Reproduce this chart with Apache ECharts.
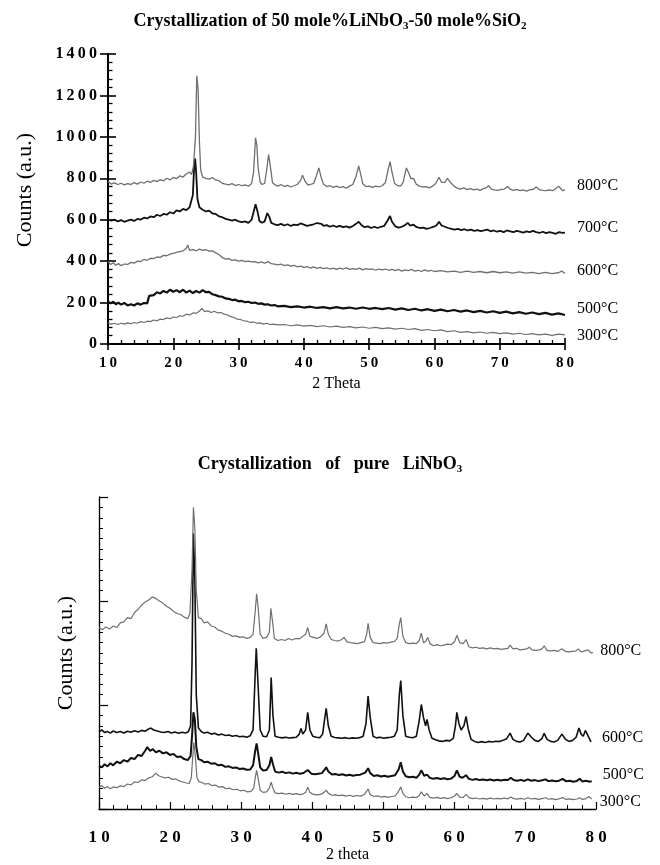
<!DOCTYPE html>
<html>
<head>
<meta charset="utf-8">
<script src="https://cdn.jsdelivr.net/npm/echarts@6/dist/echarts.min.js"></script>
<style>
html,body{margin:0;padding:0;background:#fff;}
#chart{width:660px;height:865px;}
</style>
</head>
<body>
<div id="chart"></div>
<script>
// ---------- Top chart: 50 mole% LiNbO3 - 50 mole% SiO2 ----------
const topXTicks = [10, 20, 30, 40, 50, 60, 70, 80];
const topYTicks = [0, 200, 400, 600, 800, 1000, 1200, 1400];
const topNames = ['800°C', '700°C', '600°C', '500°C', '300°C'];

const top800 = [[10,784],[10.5,772],[11,778],[11.5,770],[12,776],[12.5,768],[13,774],[13.5,770],[14,779],[14.5,772],[15,782],[15.5,776],[16,786],[16.5,780],[17,790],[17.5,784],[18,794],[18.5,788],[19,800],[19.5,792],[20,804],[20.5,798],[21,812],[21.5,806],[22,822],[22.5,830],[22.8,818],[23.1,860],[23.4,1000],[23.6,1295],[23.8,1230],[24.0,980],[24.2,840],[24.5,806],[25,800],[25.5,796],[26,804],[26.5,792],[27,788],[27.5,776],[28,772],[28.5,768],[29,774],[29.5,765],[30,770],[30.5,764],[31,768],[31.5,762],[32,775],[32.3,830],[32.6,995],[32.8,960],[33,850],[33.3,782],[33.6,770],[34,775],[34.3,840],[34.6,915],[34.9,850],[35.2,778],[35.6,768],[36,762],[36.5,770],[37,760],[37.5,766],[38,758],[38.5,764],[39,770],[39.5,790],[39.8,815],[40.2,785],[40.6,768],[41,770],[41.5,775],[41.9,810],[42.3,850],[42.6,810],[43,772],[43.5,760],[44,764],[44.5,756],[45,762],[45.5,755],[46,760],[46.5,752],[47,762],[47.5,770],[48,810],[48.4,860],[48.7,820],[49,775],[49.5,760],[50,762],[50.5,756],[51,762],[51.5,758],[52,764],[52.5,780],[52.9,840],[53.2,880],[53.5,830],[53.9,775],[54.3,766],[54.8,762],[55.2,780],[55.7,850],[56,830],[56.4,798],[56.8,800],[57.2,772],[57.7,762],[58.2,758],[58.7,760],[59.2,754],[59.7,762],[60.2,775],[60.7,805],[61.1,780],[61.6,780],[62,800],[62.4,782],[63,762],[63.5,752],[64,748],[64.5,754],[65,745],[65.5,750],[66,744],[66.5,748],[67,742],[67.5,750],[68,755],[68.3,765],[68.7,748],[69.2,744],[69.7,742],[70.2,746],[70.7,748],[71.2,760],[71.6,748],[72.1,742],[72.6,746],[73.1,740],[73.6,744],[74.1,738],[74.6,744],[75.1,746],[75.6,758],[76.1,745],[76.6,742],[77.1,740],[77.6,744],[78.1,740],[78.6,750],[79,762],[79.3,752],[79.6,740],[80,744]];

const top700 = [[10,602],[10.5,596],[11,600],[11.5,592],[12,598],[12.5,590],[13,596],[13.5,600],[14,594],[14.5,604],[15,600],[15.5,610],[16,606],[16.5,616],[17,612],[17.5,624],[18,618],[18.5,628],[19,624],[19.5,636],[20,630],[20.5,645],[21,640],[21.5,652],[22,646],[22.5,660],[22.8,668],[23.0,720],[23.2,860],[23.35,895],[23.5,830],[23.7,700],[24,660],[24.5,648],[25,640],[25.5,644],[26,630],[26.5,628],[27,616],[27.5,612],[28,604],[28.5,600],[29,596],[29.5,600],[30,592],[30.5,588],[31,592],[31.5,585],[32,600],[32.4,650],[32.6,675],[32.9,640],[33.2,594],[33.6,585],[34,592],[34.4,632],[34.7,615],[35,585],[35.5,578],[36,574],[36.5,580],[37,572],[37.5,578],[38,570],[38.5,576],[39,574],[39.5,582],[40,576],[40.5,570],[41,574],[41.5,578],[42,584],[42.3,592],[42.7,580],[43,570],[43.5,574],[44,566],[44.5,572],[45,565],[45.5,570],[46,564],[46.5,568],[47,562],[47.5,570],[48,580],[48.4,590],[48.8,575],[49.3,564],[49.8,568],[50.3,560],[50.8,566],[51.3,560],[51.8,566],[52.3,570],[52.8,595],[53.2,618],[53.5,590],[54,568],[54.5,562],[55,566],[55.5,574],[55.9,585],[56.3,572],[56.8,576],[57.3,564],[57.8,560],[58.3,562],[58.8,556],[59.3,560],[59.8,565],[60.3,572],[60.7,590],[61.1,572],[61.6,566],[62.1,560],[62.6,556],[63.1,552],[63.6,556],[64.1,550],[64.6,554],[65.1,548],[65.6,552],[66.1,546],[66.6,550],[67.1,545],[67.6,548],[68.1,552],[68.6,544],[69.1,548],[69.6,542],[70.1,546],[70.6,540],[71.1,548],[71.6,544],[72.1,540],[72.6,546],[73.1,542],[73.6,538],[74.1,544],[74.6,540],[75.1,546],[75.6,540],[76.1,536],[76.6,542],[77.1,535],[77.6,540],[78.1,536],[78.6,532],[79.1,540],[79.6,536],[80,538]];

const top600 = [[10,398],[10.4,384],[10.8,392],[11.2,380],[11.6,388],[12,378],[12.5,386],[13,384],[13.5,394],[14,390],[14.5,400],[15,398],[15.5,408],[16,404],[16.5,414],[17,412],[17.5,420],[18,418],[18.5,428],[19,426],[19.5,434],[20,438],[20.5,442],[21,446],[21.5,450],[22,462],[22.2,478],[22.5,452],[23,456],[23.5,450],[24,458],[24.5,452],[25,455],[25.5,448],[26,450],[26.5,440],[27,432],[27.5,418],[28,410],[28.5,412],[29,404],[29.5,406],[30,400],[30.5,404],[31,398],[31.5,400],[32,396],[32.5,398],[33,392],[33.5,396],[34,390],[34.5,398],[35,388],[35.5,386],[36,382],[36.5,386],[37,378],[37.5,382],[38,376],[38.5,380],[39,372],[39.5,376],[40,370],[40.5,374],[41,366],[41.5,372],[42,365],[42.5,370],[43,364],[43.5,368],[44,362],[44.5,366],[45,360],[45.5,366],[46,362],[46.5,368],[47,360],[47.5,364],[48,360],[48.5,366],[49,358],[49.5,364],[50,360],[50.5,362],[51,356],[51.5,362],[52,358],[52.5,362],[53,356],[53.5,360],[54,354],[54.5,360],[55,352],[55.5,358],[56,354],[56.5,360],[57,352],[57.5,356],[58,350],[58.5,358],[59,352],[59.5,356],[60,350],[61,354],[62,348],[63,352],[64,346],[65,352],[66,346],[67,350],[68,344],[69,350],[70,344],[71,348],[72,342],[73,348],[74,342],[75,346],[76,340],[77,346],[78,340],[79,344],[79.5,352],[80,340]];

const top500 = [[10,205],[10.4,196],[10.8,204],[11.2,192],[11.6,200],[12,190],[12.5,198],[13,186],[13.5,192],[14,186],[14.5,196],[15,190],[15.5,198],[16,196],[16.3,232],[16.6,240],[17,236],[17.5,250],[18,244],[18.5,256],[19,248],[19.5,262],[20,252],[20.5,260],[21,250],[21.5,262],[22,248],[22.5,258],[23,246],[23.5,256],[24,248],[24.5,260],[25,250],[25.5,252],[26,240],[26.5,236],[27,230],[27.5,228],[28,220],[28.5,218],[29,212],[29.5,214],[30,206],[30.5,208],[31,202],[31.5,204],[32,198],[32.5,200],[33,194],[33.5,196],[34,190],[34.5,192],[35,186],[35.5,188],[36,182],[37,184],[38,178],[39,182],[40,176],[41,180],[42,174],[43,178],[44,172],[45,178],[46,172],[47,176],[48,170],[49,176],[50,170],[51,174],[52,168],[53,174],[54,166],[55,172],[56,164],[57,170],[58,162],[59,168],[60,160],[61,166],[62,158],[63,164],[64,156],[65,162],[66,154],[67,160],[68,152],[69,158],[70,150],[71,156],[72,148],[73,154],[74,146],[75,152],[76,144],[77,150],[78,142],[79,148],[80,140]];

const top300 = [[10,102],[10.5,96],[11,100],[11.5,94],[12,100],[12.5,96],[13,102],[13.5,98],[14,104],[14.5,100],[15,108],[15.5,104],[16,110],[16.5,108],[17,116],[17.5,112],[18,120],[18.5,118],[19,126],[19.5,122],[20,130],[20.5,128],[21,136],[21.5,134],[22,144],[22.5,140],[23,150],[23.5,148],[24,158],[24.4,172],[24.8,156],[25.3,160],[25.8,152],[26.3,158],[26.8,150],[27.3,152],[27.8,144],[28.3,140],[28.8,132],[29.3,128],[29.8,120],[30.3,118],[30.8,112],[31.3,110],[31.8,104],[32.3,106],[32.8,100],[33.3,102],[33.8,96],[34.3,100],[34.8,94],[35.3,96],[36,92],[37,94],[38,88],[39,92],[40,86],[41,90],[42,84],[43,88],[44,82],[45,86],[46,80],[47,84],[48,78],[49,82],[50,76],[51,80],[52,74],[53,78],[54,72],[55,76],[56,70],[57,74],[58,66],[59,70],[60,64],[61,68],[62,60],[63,64],[64,56],[65,60],[66,54],[67,58],[68,52],[69,56],[70,50],[71,54],[72,48],[73,52],[74,46],[75,50],[76,44],[77,48],[78,42],[79,48],[80,44]];

// ---------- Bottom chart: pure LiNbO3 (arbitrary units) ----------
const botXTicks = [10, 20, 30, 40, 50, 60, 70, 80];
const botNames = ['800°C', '600°C', '500°C', '300°C'];

const bot800 = [[10,1740],[10.5,1725],[11,1750],[11.5,1730],[12,1760],[12.5,1745],[13,1790],[13.5,1800],[14,1840],[14.5,1830],[15,1890],[15.5,1920],[16,1960],[16.5,1990],[17,2010],[17.5,2040],[18,2025],[18.5,2000],[19,1980],[19.5,1950],[20,1930],[20.5,1900],[21,1880],[21.5,1870],[22,1845],[22.5,1830],[22.8,1880],[23.1,2300],[23.3,2900],[23.5,2700],[23.7,2100],[24,1840],[24.4,1830],[24.8,1790],[25.3,1800],[25.8,1760],[26.3,1750],[26.8,1720],[27.3,1710],[27.8,1690],[28.3,1680],[28.8,1660],[29.3,1665],[29.8,1650],[30.3,1655],[30.8,1640],[31.3,1650],[31.7,1680],[32,1900],[32.2,2070],[32.4,1950],[32.7,1680],[33.1,1640],[33.6,1650],[34,1700],[34.2,1930],[34.45,1800],[34.7,1640],[35.2,1620],[35.7,1630],[36.2,1620],[36.7,1640],[37.2,1625],[37.7,1640],[38.2,1635],[38.7,1660],[39.1,1680],[39.4,1745],[39.7,1660],[40.2,1650],[40.7,1640],[41.2,1655],[41.7,1690],[42,1780],[42.3,1680],[42.7,1630],[43.2,1620],[43.7,1615],[44.2,1630],[44.5,1650],[44.9,1610],[45.4,1600],[45.9,1595],[46.4,1590],[46.9,1600],[47.4,1610],[47.7,1680],[47.9,1785],[48.2,1650],[48.6,1600],[49.1,1595],[49.6,1590],[50.1,1600],[50.6,1595],[51.1,1605],[51.6,1610],[52,1640],[52.3,1780],[52.5,1840],[52.8,1660],[53.2,1600],[53.7,1590],[54.2,1595],[54.7,1590],[55.1,1620],[55.4,1690],[55.7,1600],[56,1610],[56.3,1650],[56.6,1590],[57.1,1570],[57.6,1580],[58.1,1570],[58.6,1575],[59.1,1585],[59.6,1580],[60.1,1610],[60.4,1670],[60.8,1600],[61.3,1590],[61.7,1630],[62.1,1560],[62.6,1550],[63.1,1555],[63.6,1545],[64.1,1550],[64.6,1540],[65.1,1550],[65.6,1540],[66.1,1545],[66.6,1535],[67.1,1540],[67.6,1545],[67.9,1575],[68.3,1540],[68.8,1545],[69.3,1530],[69.8,1535],[70.3,1540],[70.6,1555],[71,1530],[71.5,1525],[72,1530],[72.4,1540],[72.7,1570],[73.1,1525],[73.6,1520],[74.1,1525],[74.6,1515],[75.2,1540],[75.7,1515],[76.2,1510],[76.7,1515],[77.2,1520],[77.5,1540],[77.9,1510],[78.4,1520],[78.9,1530],[79.3,1500],[79.6,1505]];

const bot600 = [[10,740],[10.4,760],[10.8,735],[11.2,745],[11.6,730],[12,750],[12.5,735],[13,745],[13.5,730],[14,748],[14.5,738],[15,752],[15.5,740],[16,756],[16.5,748],[17,770],[17.3,778],[17.7,760],[18.2,750],[18.7,740],[19.2,735],[19.7,745],[20.2,730],[20.7,740],[21.2,728],[21.7,738],[22.2,730],[22.6,745],[22.9,800],[23.1,1400],[23.3,2650],[23.5,2200],[23.7,1100],[24,780],[24.4,745],[24.8,730],[25.3,738],[25.8,720],[26.3,728],[26.8,712],[27.3,720],[27.8,706],[28.3,712],[28.8,700],[29.3,706],[29.8,694],[30.3,700],[30.8,690],[31.3,705],[31.7,760],[32,1300],[32.15,1545],[32.4,1200],[32.7,760],[33.1,700],[33.6,695],[34,760],[34.25,1265],[34.5,900],[34.8,700],[35.3,690],[35.8,684],[36.3,690],[36.8,682],[37.3,686],[37.8,690],[38.2,720],[38.45,775],[38.7,720],[39.1,760],[39.4,930],[39.7,760],[40.1,700],[40.6,690],[41.1,686],[41.5,720],[41.75,850],[42,968],[42.3,800],[42.7,700],[43.2,688],[43.7,684],[44.2,680],[44.7,686],[45.2,678],[45.7,684],[46.2,680],[46.7,686],[47.2,700],[47.6,820],[47.9,1085],[48.2,880],[48.6,700],[49.1,684],[49.6,690],[50.1,680],[50.6,686],[51.1,690],[51.6,700],[52,760],[52.3,1100],[52.5,1236],[52.8,900],[53.2,700],[53.7,690],[54.2,685],[54.7,700],[55.1,850],[55.4,1005],[55.7,880],[56,800],[56.2,862],[56.5,760],[56.9,680],[57.4,665],[57.9,655],[58.4,650],[58.9,660],[59.4,655],[59.9,680],[60.2,800],[60.4,930],[60.7,820],[61,760],[61.4,800],[61.7,890],[62,770],[62.4,670],[62.9,650],[63.4,640],[63.9,648],[64.4,640],[64.9,650],[65.4,645],[65.9,652],[66.4,648],[66.9,660],[67.4,675],[67.9,730],[68.3,670],[68.8,650],[69.3,645],[69.8,660],[70.4,730],[70.9,690],[71.4,660],[71.9,650],[72.4,680],[72.7,728],[73.1,670],[73.6,650],[74.1,645],[74.6,660],[75.2,720],[75.7,670],[76.2,650],[76.7,660],[77.2,690],[77.6,778],[77.9,720],[78.2,700],[78.5,755],[78.9,700],[79.3,645]];

const bot500 = [[10,415],[10.4,400],[10.8,430],[11.2,410],[11.6,440],[12,420],[12.5,455],[13,440],[13.5,470],[14,455],[14.5,490],[15,480],[15.5,520],[16,510],[16.5,560],[16.8,595],[17.2,560],[17.6,575],[18,545],[18.5,560],[19,535],[19.5,545],[20,520],[20.5,530],[21,500],[21.5,505],[22,480],[22.5,470],[22.9,510],[23.1,700],[23.3,930],[23.5,860],[23.7,600],[24,480],[24.4,470],[24.8,450],[25.3,455],[25.8,435],[26.3,440],[26.8,420],[27.3,425],[27.8,405],[28.3,410],[28.8,395],[29.3,400],[29.8,385],[30.3,390],[30.8,378],[31.3,380],[31.7,420],[32,560],[32.2,630],[32.45,520],[32.7,400],[33.1,370],[33.6,375],[34,420],[34.25,500],[34.5,430],[34.8,360],[35.3,350],[35.8,358],[36.3,345],[36.8,352],[37.3,340],[37.8,348],[38.3,338],[38.8,346],[39.4,375],[39.9,340],[40.4,335],[40.9,340],[41.4,345],[41.8,380],[42,402],[42.3,360],[42.8,332],[43.3,336],[43.8,326],[44.3,334],[44.8,322],[45.3,330],[45.8,320],[46.3,328],[46.8,330],[47.5,350],[47.9,392],[48.2,345],[48.7,318],[49.2,325],[49.7,312],[50.2,320],[50.7,310],[51.2,318],[51.7,325],[52.2,380],[52.5,450],[52.8,360],[53.2,315],[53.7,305],[54.2,310],[54.7,300],[55.1,330],[55.4,372],[55.8,320],[56.2,330],[56.6,300],[57.1,290],[57.6,298],[58.1,288],[58.6,295],[59.1,286],[59.6,292],[60.1,320],[60.4,372],[60.8,310],[61.2,300],[61.7,325],[62.1,290],[62.6,280],[63.1,288],[63.6,278],[64.1,284],[64.6,276],[65.1,284],[65.6,274],[66.1,282],[66.6,275],[67.1,282],[67.6,278],[68,300],[68.4,278],[68.9,272],[69.4,280],[69.9,270],[70.4,285],[70.9,272],[71.4,278],[71.9,268],[72.4,276],[72.9,285],[73.3,268],[73.8,274],[74.3,266],[74.8,272],[75.3,290],[75.8,266],[76.3,272],[76.8,262],[77.3,270],[77.7,290],[78.1,265],[78.6,272],[79.1,262],[79.4,268]];

const bot300 = [[10,210],[10.4,225],[10.8,200],[11.2,215],[11.6,195],[12,212],[12.5,205],[13,222],[13.5,215],[14,240],[14.5,232],[15,260],[15.5,255],[16,280],[16.5,275],[17,300],[17.5,310],[18,345],[18.4,320],[18.8,310],[19.3,300],[19.8,305],[20.3,285],[20.8,290],[21.3,270],[21.8,260],[22.3,250],[22.7,245],[23,300],[23.2,500],[23.35,640],[23.55,520],[23.8,300],[24.1,260],[24.5,255],[24.9,240],[25.4,245],[25.9,225],[26.4,230],[26.9,210],[27.4,215],[27.9,195],[28.4,200],[28.9,185],[29.4,190],[29.9,175],[30.4,180],[30.9,165],[31.4,170],[31.8,200],[32,300],[32.2,372],[32.45,280],[32.7,180],[33.1,160],[33.6,165],[34,200],[34.25,258],[34.5,200],[34.8,155],[35.3,148],[35.8,152],[36.3,142],[36.8,150],[37.3,140],[37.8,148],[38.3,138],[38.8,146],[39.1,160],[39.4,210],[39.7,160],[40.2,140],[40.7,135],[41.2,140],[41.7,160],[42,182],[42.3,150],[42.8,132],[43.3,136],[43.8,128],[44.3,134],[44.8,124],[45.3,132],[45.8,122],[46.3,130],[46.8,124],[47.4,140],[47.9,192],[48.2,140],[48.7,120],[49.2,126],[49.7,115],[50.2,122],[50.7,112],[51.2,120],[51.7,125],[52.2,170],[52.5,211],[52.8,150],[53.2,118],[53.7,108],[54.2,115],[54.7,110],[55.1,130],[55.4,165],[55.8,125],[56.2,150],[56.6,112],[57.1,105],[57.6,112],[58.1,102],[58.6,110],[59.1,100],[59.6,108],[60.1,125],[60.4,150],[60.8,115],[61.3,112],[61.7,140],[62.1,110],[62.6,100],[63.1,106],[63.6,96],[64.1,102],[64.6,95],[65.1,104],[65.6,96],[66.1,102],[66.6,98],[67.1,104],[67.6,98],[68,115],[68.4,100],[68.9,95],[69.4,102],[69.9,94],[70.4,108],[70.9,96],[71.4,102],[71.9,92],[72.4,100],[72.9,108],[73.3,94],[73.8,100],[74.3,90],[74.8,98],[75.3,110],[75.8,92],[76.3,98],[76.8,90],[77.3,96],[77.7,108],[78.1,92],[78.6,100],[79,120],[79.4,95]];

// ---------- Build chart ----------
const FONT = 'Liberation Serif';
const GRAY = '#6f6f6f';
const BLACK = '#111';
const thin = s => String(s).split('').join('\u2009');
const spaced = s => String(s).split('').join(' ');

function line(name, data, xi, yi, color, width, offset) {
  return {
    name, type: 'line', data, xAxisIndex: xi, yAxisIndex: yi,
    showSymbol: false, symbol: 'none', silent: true,
    lineStyle: { color, width },
    endLabel: { show: true, formatter: name, offset, distance: 8,
      fontFamily: FONT, fontSize: 16, color: '#000' }
  };
}

const tickStyle = w => ({ color: '#000', width: w });
const titleRich = {
  t: { fontFamily: FONT, fontWeight: 'bold', fontSize: 18, lineHeight: 20, verticalAlign: 'top', color: '#000' },
  s: { fontFamily: FONT, fontWeight: 'bold', fontSize: 11, lineHeight: 20, verticalAlign: 'bottom', color: '#000' }
};

const option = {
  animation: false,
  backgroundColor: '#fff',
  title: [
    { text: '{t|Crystallization of 50 mole%LiNbO}{s|3}{t|-50 mole%SiO}{s|2}',
      left: 'center', top: 7, textStyle: { rich: titleRich } },
    { text: '{t|Crystallization   of   pure   LiNbO}{s|3}',
      left: 'center', top: 450, textStyle: { rich: titleRich } }
  ],
  grid: [
    { left: 108, right: 95, top: 54, height: 290 },
    { left: 99, right: 64, top: 497, height: 312 }
  ],
  xAxis: [
    { gridIndex: 0, type: 'value', position: 'bottom', min: topXTicks[0], max: topXTicks[topXTicks.length - 1], interval: 10,
      axisLine: { lineStyle: { color: '#000', width: 2 } },
      axisTick: { inside: true, length: 6, lineStyle: tickStyle(1.6) },
      minorTick: { show: true, splitNumber: 5, length: 4, lineStyle: tickStyle(1.3) },
      splitLine: { show: false },
      axisLabel: { margin: 12, fontFamily: FONT, fontWeight: 'bold', fontSize: 15, color: '#000', formatter: v => thin(v) },
      name: '2 Theta', nameLocation: 'middle', nameGap: 32,
      nameTextStyle: { fontFamily: FONT, fontSize: 16, color: '#000' } },
    { gridIndex: 0, type: 'value', position: 'bottom', min: topXTicks[0], max: topXTicks[topXTicks.length - 1], interval: 10,
      axisLine: { show: false }, axisTick: { inside: false, length: 6, lineStyle: tickStyle(1.6) },
      axisLabel: { show: false }, splitLine: { show: false } },
    { gridIndex: 1, type: 'value', position: 'bottom', min: botXTicks[0], max: botXTicks[botXTicks.length - 1], interval: 10,
      axisLine: { lineStyle: { color: '#000', width: 1.3 } },
      axisTick: { inside: true, length: 7, lineStyle: tickStyle(1.2) },
      minorTick: { show: true, splitNumber: 5, length: 4, lineStyle: tickStyle(1) },
      splitLine: { show: false },
      axisLabel: { margin: 20, fontFamily: FONT, fontWeight: 'bold', fontSize: 17, color: '#000', formatter: v => spaced(v) },
      name: '2 theta', nameLocation: 'middle', nameGap: 35,
      nameTextStyle: { fontFamily: FONT, fontSize: 16, color: '#000' } }
  ],
  yAxis: [
    { gridIndex: 0, type: 'value', position: 'left', min: topYTicks[0], max: topYTicks[topYTicks.length - 1], interval: 200,
      axisLine: { show: true, lineStyle: { color: '#000', width: 2 } },
      axisTick: { show: true, inside: true, length: 8, lineStyle: tickStyle(1.6) },
      minorTick: { show: true, splitNumber: 5, length: 4.5, lineStyle: tickStyle(1.3) },
      splitLine: { show: false },
      axisLabel: { margin: 11, fontFamily: FONT, fontWeight: 'bold', fontSize: 16, color: '#000', formatter: v => thin(v) },
      name: 'Counts (a.u.)', nameLocation: 'middle', nameRotate: 90, nameGap: 72,
      nameTextStyle: { fontFamily: FONT, fontSize: 22, color: '#000', padding: [0, 0, 0, 18] } },
    { gridIndex: 0, type: 'value', position: 'left', min: topYTicks[0], max: topYTicks[topYTicks.length - 1], interval: 200,
      axisLine: { show: false }, axisTick: { show: true, inside: false, length: 8, lineStyle: tickStyle(1.6) },
      axisLabel: { show: false }, splitLine: { show: false } },
    { gridIndex: 1, type: 'value', position: 'left', min: 0, max: 3000, interval: 1000,
      axisLine: { show: true, lineStyle: { color: '#000', width: 1.3 } },
      axisTick: { show: true, inside: true, length: 9, lineStyle: tickStyle(1.2) },
      minorTick: { show: true, splitNumber: 10, length: 4, lineStyle: tickStyle(1) },
      splitLine: { show: false },
      axisLabel: { show: false },
      name: 'Counts (a.u.)', nameLocation: 'middle', nameRotate: 90, nameGap: 22,
      nameTextStyle: { fontFamily: FONT, fontSize: 22, color: '#000' } }
  ],
  series: [
    line(topNames[4], top300, 0, 0, GRAY, 1.2, [4, 1]),
    line(topNames[3], top500, 0, 0, BLACK, 2.2, [4, -6]),
    line(topNames[2], top600, 0, 0, GRAY, 1.3, [4, -3]),
    line(topNames[1], top700, 0, 0, BLACK, 1.8, [4, -5]),
    line(topNames[0], top800, 0, 0, GRAY, 1.3, [4, -4]),
    line(botNames[3], bot300, 2, 2, GRAY, 1.2, [0, 3]),
    line(botNames[2], bot500, 2, 2, BLACK, 2.0, [3, -6]),
    line(botNames[1], bot600, 2, 2, BLACK, 1.6, [3, -4]),
    line(botNames[0], bot800, 2, 2, GRAY, 1.2, [-1, -2])
  ]
};

const chart = echarts.init(document.getElementById('chart'), null, { renderer: 'canvas' });
chart.setOption(option);
</script>
</body>
</html>
